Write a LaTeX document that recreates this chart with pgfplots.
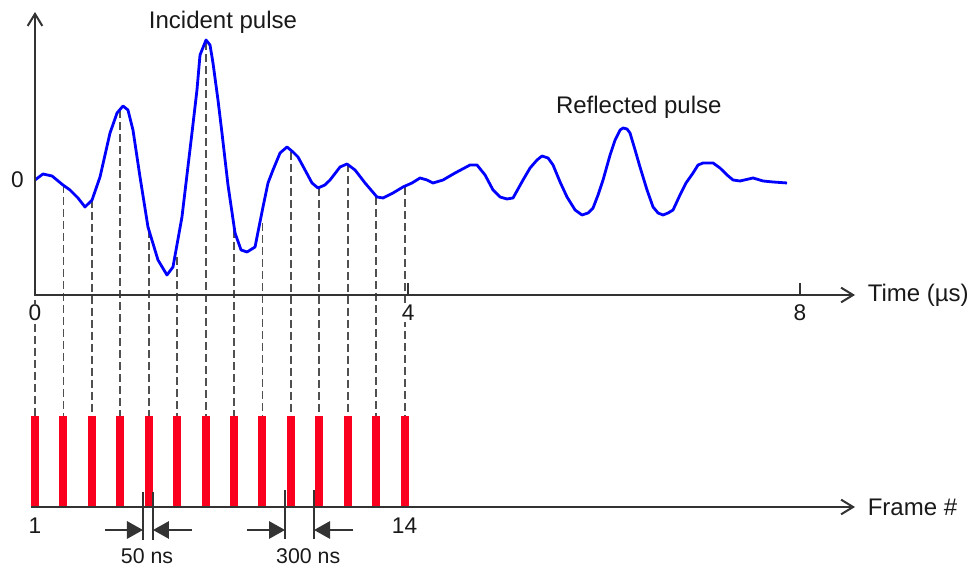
\documentclass[border=0pt]{standalone}
\usepackage{pgfplots}
\pgfplotsset{compat=1.18}
\usepackage{pgfplotstable}
\usepackage{fontspec}
\setmainfont{Liberation Sans}
\usetikzlibrary{arrows.meta}
\definecolor{wave}{RGB}{0,0,255}
\definecolor{framered}{RGB}{250,0,30}
\definecolor{axisgray}{RGB}{51,51,51}
\definecolor{dashgray}{RGB}{80,80,80}

% measured trace: time (us), amplitude (arb.)
\pgfplotstableread{
t a
0.000 0.0
0.086 0.6
0.184 0.4
0.302 -0.5
0.378 -1.0
0.464 -1.8
0.540 -2.7
0.616 -2.0
0.702 0.3
0.810 4.7
0.886 6.7
0.950 7.4
1.004 7.0
1.058 5.0
1.134 0.3
1.220 -4.7
1.328 -8.0
1.425 -9.5
1.490 -8.7
1.587 -3.7
1.641 0.5
1.695 4.7
1.749 9.0
1.782 12.5
1.847 14.0
1.890 13.5
1.922 11.7
1.976 8.0
2.019 4.7
2.084 -0.5
2.160 -5.3
2.225 -7.0
2.290 -7.2
2.376 -6.7
2.462 -2.7
2.516 -0.3
2.570 1.0
2.646 2.7
2.721 3.3
2.786 2.8
2.840 2.3
2.916 1.0
2.991 -0.3
3.056 -0.8
3.130 -0.5
3.186 0.0
3.294 1.3
3.369 1.6
3.456 1.0
3.564 -0.3
3.693 -1.7
3.758 -1.8
3.866 -1.3
3.974 -0.7
4.071 -0.3
4.158 0.2
4.233 0.0
4.298 -0.3
4.406 0.0
4.536 0.7
4.698 1.5
4.773 1.5
4.860 0.5
4.946 -1.0
5.022 -1.7
5.097 -1.9
5.162 -1.8
5.270 0.0
5.346 1.2
5.421 2.0
5.475 2.4
5.540 2.2
5.594 1.5
5.670 -0.2
5.745 -1.7
5.832 -3.0
5.907 -3.5
5.972 -3.3
6.026 -2.8
6.080 -1.5
6.134 0.0
6.210 2.5
6.264 4.0
6.318 5.0
6.350 5.2
6.393 5.1
6.425 4.7
6.480 3.0
6.533 1.3
6.609 -1.0
6.674 -2.7
6.728 -3.3
6.782 -3.5
6.836 -3.3
6.890 -3.0
6.965 -1.5
7.030 -0.3
7.106 0.7
7.160 1.5
7.214 1.7
7.322 1.7
7.397 1.2
7.473 0.5
7.538 0.0
7.613 -0.1
7.754 0.2
7.862 -0.1
7.970 -0.2
8.121 -0.3
}\wavetable

\begin{document}
\begin{tikzpicture}
\begin{axis}[
  scale only axis, width=726.75pt, height=424.5pt,
  xmin=-0.378, xmax=10.086, ymin=-38.6, ymax=18,
  axis lines=none, clip=false,
]
% sampling lines, wave down to the frames
\addplot[dashgray, line width=1.4pt, dash pattern=on 6pt off 3pt, unbounded coords=jump] coordinates {
(0,0)(0,-23.6)(0,nan)
(0.307,-0.5)(0.307,-23.6)(0.307,nan)
(0.614,-2.0)(0.614,-23.6)(0.614,nan)
(0.921,7.0)(0.921,-23.6)(0.921,nan)
(1.228,-5.0)(1.228,-23.6)(1.228,nan)
(1.535,-7.7)(1.535,-23.6)(1.535,nan)
(1.842,13.8)(1.842,-23.6)(1.842,nan)
(2.149,-5.0)(2.149,-23.6)(2.149,nan)
(2.456,-4.3)(2.456,-23.6)(2.456,nan)
(2.763,2.8)(2.763,-23.6)(2.763,nan)
(3.070,-0.8)(3.070,-23.6)(3.070,nan)
(3.377,1.6)(3.377,-23.6)(3.377,nan)
(3.684,-1.7)(3.684,-23.6)(3.684,nan)
(3.991,-0.7)(3.991,-23.6)
};
% frames
\addplot[framered, line width=6pt, line cap=butt, unbounded coords=jump] coordinates {
(0,-23.6)(0,-32.7)(0,nan)
(0.307,-23.6)(0.307,-32.7)(0.307,nan)
(0.614,-23.6)(0.614,-32.7)(0.614,nan)
(0.921,-23.6)(0.921,-32.7)(0.921,nan)
(1.228,-23.6)(1.228,-32.7)(1.228,nan)
(1.535,-23.6)(1.535,-32.7)(1.535,nan)
(1.842,-23.6)(1.842,-32.7)(1.842,nan)
(2.149,-23.6)(2.149,-32.7)(2.149,nan)
(2.456,-23.6)(2.456,-32.7)(2.456,nan)
(2.763,-23.6)(2.763,-32.7)(2.763,nan)
(3.070,-23.6)(3.070,-32.7)(3.070,nan)
(3.377,-23.6)(3.377,-32.7)(3.377,nan)
(3.684,-23.6)(3.684,-32.7)(3.684,nan)
(3.991,-23.6)(3.991,-32.7)
};
% trace
\addplot[wave, line width=2.1pt, line join=round] table[x=t, y=a] {\wavetable};

% axes
\draw[axisgray, line width=1.5pt, -{Straight Barb[length=9pt,width=11pt]}] (axis cs:-0.01,-11.5) -- (axis cs:8.855,-11.5);
\draw[axisgray, line width=1.5pt, -{Straight Barb[length=9pt,width=11pt]}] (axis cs:0,-11.5) -- (axis cs:0,16.8);
\draw[axisgray, line width=1.5pt] (axis cs:4.03,-11.5) -- (axis cs:4.03,-10.3);
\draw[axisgray, line width=1.5pt] (axis cs:8.26,-11.5) -- (axis cs:8.26,-10.3);
\draw[axisgray, line width=1.5pt, -{Straight Barb[length=9pt,width=11pt]}] (axis cs:-0.04,-32.7) -- (axis cs:8.855,-32.7);

\begin{scope}[font=\fontsize{17}{20}\selectfont, text=black!90]
\node[fill=white, inner sep=1pt] at (axis cs:0,-13.3) {0};
\node[fill=white, inner sep=1pt] at (axis cs:4.03,-13.3) {4};
\node at (axis cs:8.26,-13.3) {8};
\node at (axis cs:-0.19,0) {0};
\node at (axis cs:0,-34.6) {1};
\node at (axis cs:3.991,-34.6) {14};
\end{scope}
\begin{scope}[font=\fontsize{18}{21}\selectfont, text=black!90]
\node[anchor=west, inner sep=0pt] at (axis cs:8.99,-11.5) {Time (µs)};
\node[anchor=west, inner sep=0pt] at (axis cs:8.99,-32.7) {Frame \#};
\node at (axis cs:2.03,15.8) {Incident pulse};
\node at (axis cs:6.52,7.3) {Reflected pulse};
\end{scope}

% 50 ns and 300 ns marks
\draw[axisgray, line width=1.5pt] (axis cs:1.166,-31.2) -- (axis cs:1.166,-36);
\draw[axisgray, line width=1.5pt] (axis cs:1.274,-31.2) -- (axis cs:1.274,-36);
\draw[axisgray, line width=1.5pt, -{Triangle[length=12pt,width=13pt]}] (axis cs:0.756,-35) -- (axis cs:1.166,-35);
\draw[axisgray, line width=1.5pt, -{Triangle[length=12pt,width=13pt]}] (axis cs:1.695,-35) -- (axis cs:1.274,-35);
\draw[axisgray, line width=1.5pt] (axis cs:2.700,-31.0) -- (axis cs:2.700,-35.9);
\draw[axisgray, line width=1.5pt] (axis cs:3.013,-31.0) -- (axis cs:3.013,-35.9);
\draw[axisgray, line width=1.5pt, -{Triangle[length=12pt,width=13pt]}] (axis cs:2.29,-35) -- (axis cs:2.700,-35);
\draw[axisgray, line width=1.5pt, -{Triangle[length=12pt,width=13pt]}] (axis cs:3.434,-35) -- (axis cs:3.013,-35);
\node[font=\fontsize{16}{19}\selectfont, text=black!90, inner sep=0pt] at (axis cs:1.21,-37.6) {50 ns};
\node[font=\fontsize{16}{19}\selectfont, text=black!90, inner sep=0pt] at (axis cs:2.95,-37.6) {300 ns};
\end{axis}
\pgfresetboundingbox
\useasboundingbox (current axis.south west) rectangle (current axis.north east);
\end{tikzpicture}
\end{document}
